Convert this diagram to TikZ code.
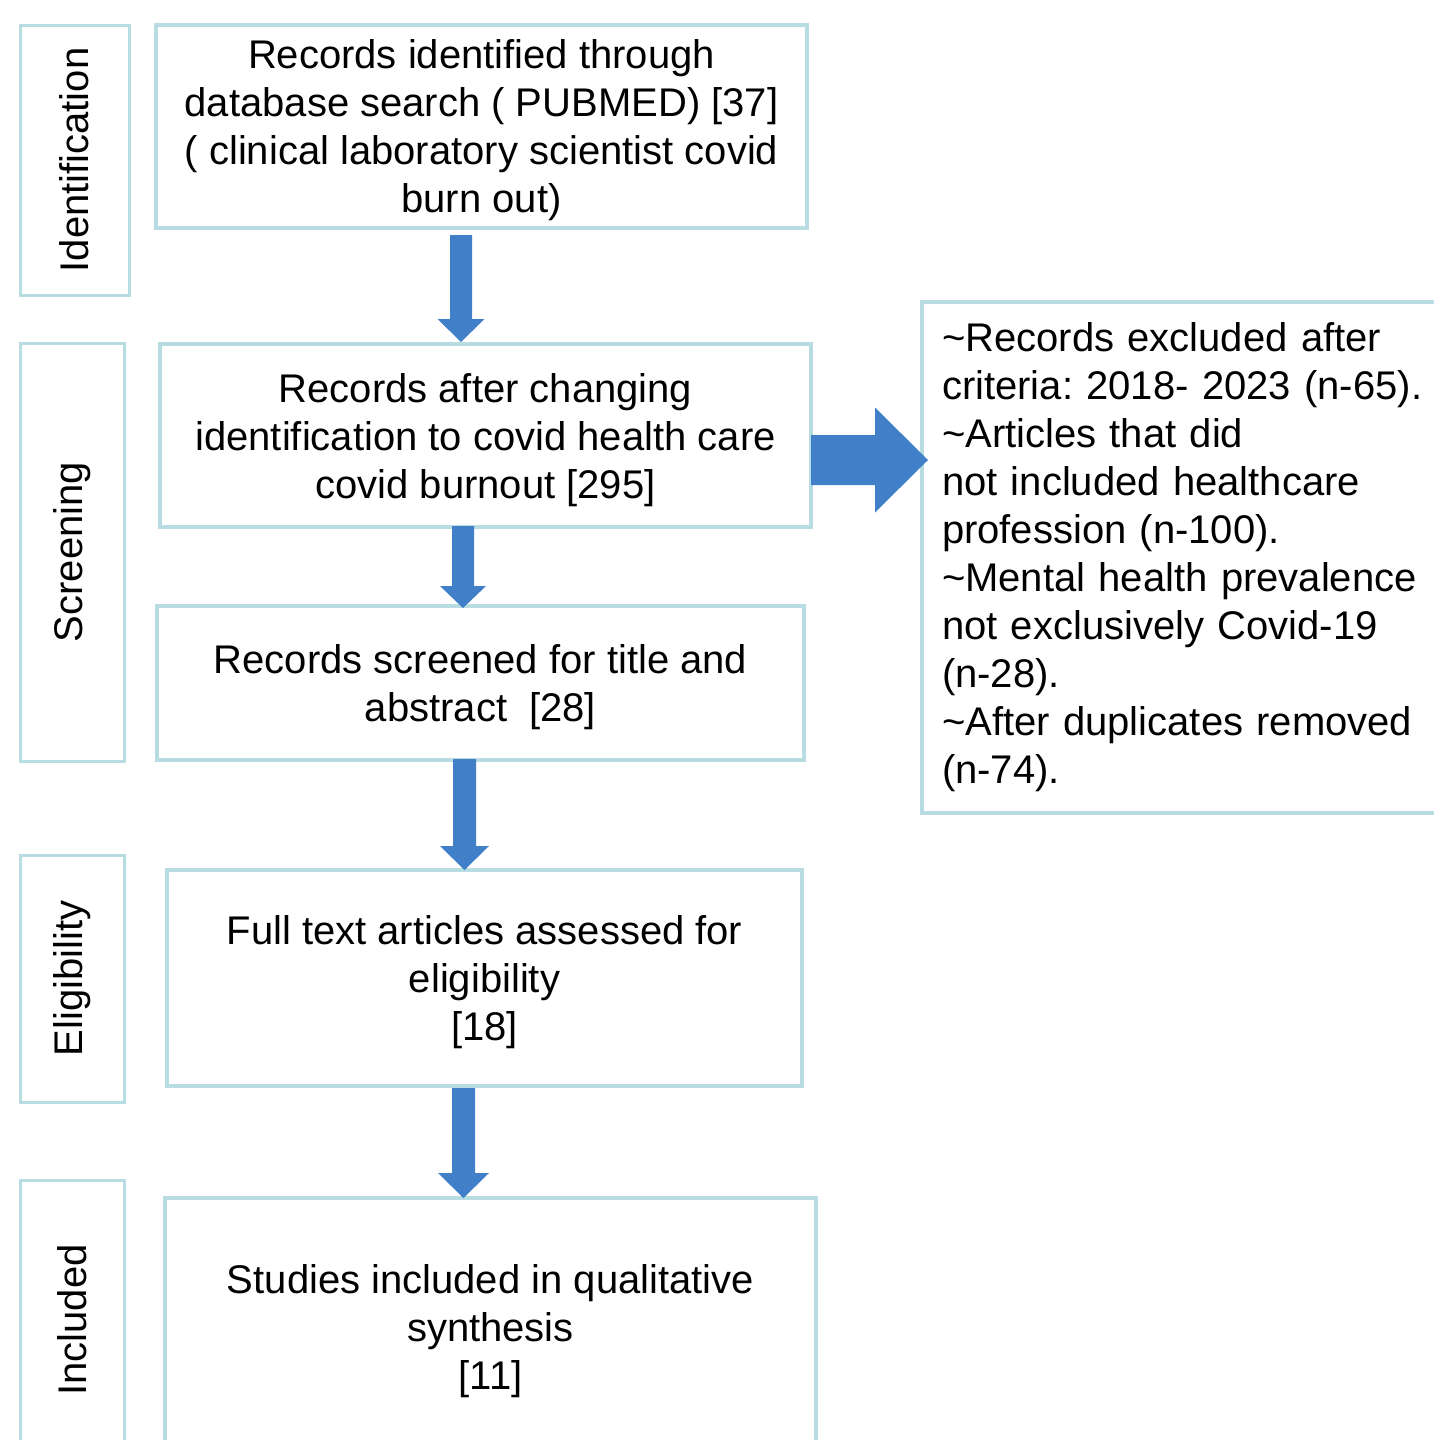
\documentclass[tikz,border=0pt]{standalone}
\usepackage{fontspec}
\setmainfont{Liberation Sans}
\frenchspacing
\usetikzlibrary{calc}
\definecolor{bordercol}{HTML}{B7DDE2}
\definecolor{arrowblue}{HTML}{4180C8}
\tikzset{
  box/.style={draw=bordercol, line width=4pt, inner sep=0pt},
  boxtext/.style={inner sep=0pt, align=center, font=\fontsize{40}{48}\selectfont},
  stage/.style={draw=bordercol, line width=3pt, inner sep=0pt},
  stagetext/.style={rotate=90, font=\fontsize{40}{48}\selectfont},
  blockarrow/.style={fill=arrowblue, draw=none}
}
\begin{document}
\begin{tikzpicture}[x=1pt,y=-1pt]
\useasboundingbox (0,0) rectangle (1433,1440);
% stage labels
\node[stage, minimum width=109, minimum height=270] (l1) at (74.5,160) {};
\node[stagetext] (t1) at (l1.center) {Identification};
\node[stage, minimum width=104, minimum height=418] (l2) at (72,552) {};
\node[stagetext] (t2) at (l2.center) {Screening};
\node[stage, minimum width=104, minimum height=247] (l3) at (72,978.5) {};
\node[stagetext] (t3) at (l3.center) {Eligibility};
\node[stage, minimum width=104, minimum height=280] (l4) at (72,1320) {};
\node[stagetext] (t4) at (l4.center) {Included};
% main boxes
\node[box, minimum width=651, minimum height=203] (b1) at (481.5,126.5) {};
\node[boxtext] (b1t) at ($(b1.center)+(0,4)$)
  {Records identified through\\database search ( PUBMED) [37]\\( clinical laboratory scientist covid\\burn out)};
\node[box, minimum width=651, minimum height=183] (b2) at (485.5,435.5) {};
\node[boxtext] (b2t) at ($(b2.center)+(0,4.5)$)
  {Records after changing\\identification to covid health care\\covid burnout [295]};
\node[box, minimum width=647, minimum height=154] (b3) at (480.5,683) {};
\node[boxtext] (b3t) at ($(b3.center)+(0,4)$)
  {Records screened for title and\\abstract~~[28]};
\node[box, minimum width=635, minimum height=216] (b4) at (484.5,978) {};
\node[boxtext] (b4t) at ($(b4.center)+(0,4)$)
  {Full text articles assessed for\\eligibility\\{[18]}};
\node[box, minimum width=651, minimum height=258] (b5) at (490.5,1327) {};
\node[boxtext] (b5t) at ($(b5.center)+(0,4)$)
  {Studies included in qualitative\\synthesis\\{[11]}};
\node[box, align=left, text width=490, inner xsep=20, minimum height=511,
  font=\fontsize{40}{48}\selectfont] (rb) at (1187,557.5)
  {\textasciitilde Records excluded after\\criteria: 2018- 2023 (n-65).\\\textasciitilde Articles that did\\not included healthcare\\profession (n-100).\\\textasciitilde Mental health prevalence\\not exclusively Covid-19\\(n-28).\\\textasciitilde After duplicates removed\\(n-74).};
% down arrows
\fill[blockarrow] let \p1=($(b1.south)+(-20.5,5)$), \p2=($(b2.north)+(-20.5,0)$) in
  (\x1-11pt,\y1) -- (\x1+11pt,\y1) -- (\x1+11pt,\y2+23pt) -- (\x1+23.5pt,\y2+23pt)
  -- (\x1,\y2) -- (\x1-23.5pt,\y2+23pt) -- (\x1-11pt,\y2+23pt) -- cycle;
\fill[blockarrow] let \p1=($(b2.south)+(-22.5,-3)$), \p2=($(b3.north)+(-17.5,4)$) in
  (\x1-11pt,\y1) -- (\x1+11pt,\y1) -- (\x1+11pt,\y2+22pt) -- (\x1+23pt,\y2+22pt)
  -- (\x1,\y2) -- (\x1-23pt,\y2+22pt) -- (\x1-11pt,\y2+22pt) -- cycle;
\fill[blockarrow] let \p1=($(b3.south)+(-16,-3)$), \p2=($(b4.north)+(-20,2)$) in
  (\x1-11.5pt,\y1) -- (\x1+11.5pt,\y1) -- (\x1+11.5pt,\y2+24pt) -- (\x1+24.5pt,\y2+24pt)
  -- (\x1,\y2) -- (\x1-24.5pt,\y2+24pt) -- (\x1-11.5pt,\y2+24pt) -- cycle;
\fill[blockarrow] let \p1=($(b4.south)+(-21,0)$), \p2=($(b5.north)+(-27,2)$) in
  (\x1-11.5pt,\y1) -- (\x1+11.5pt,\y1) -- (\x1+11.5pt,\y2+25pt) -- (\x1+25.5pt,\y2+25pt)
  -- (\x1,\y2) -- (\x1-25.5pt,\y2+25pt) -- (\x1-11.5pt,\y2+25pt) -- cycle;
% right arrow
\fill[blockarrow] let \p1=($(b2.east)+(-2,24.5)$), \p2=($(rb.west)+(8,-97.5)$) in
  (\x1,\y1+25pt) -- (\x2-53pt,\y1+25pt) -- (\x2-53pt,\y1+52.5pt) -- (\x2,\y1)
  -- (\x2-53pt,\y1-52.5pt) -- (\x2-53pt,\y1-25pt) -- (\x1,\y1-25pt) -- cycle;
\end{tikzpicture}
\end{document}
